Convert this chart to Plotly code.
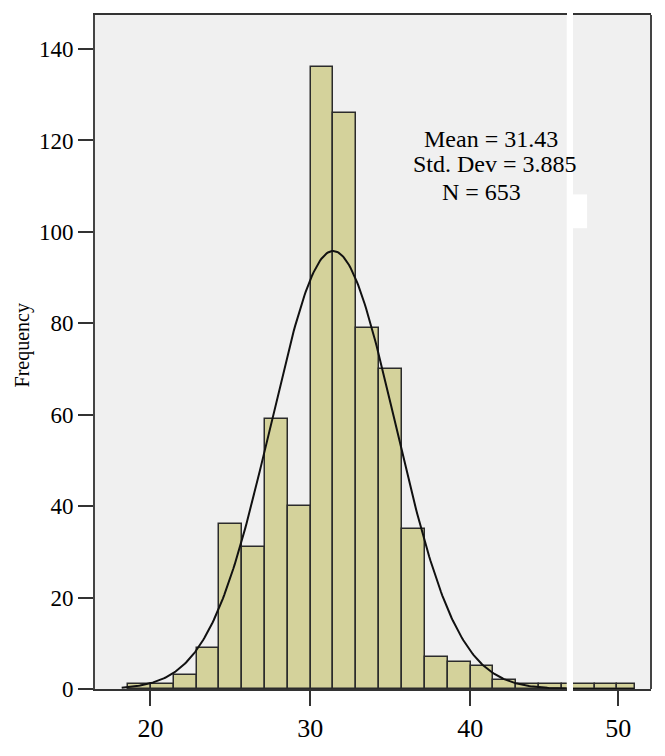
import numpy as np
import plotly.graph_objects as go

# histogram (left panel, before the axis break)
left_edges = [18.59, 20.02, 21.45, 22.88, 24.30, 25.73, 27.16, 28.59, 30.02, 31.45,
              32.88, 34.31, 35.74, 37.17, 38.60, 40.03, 41.45, 42.88, 44.31, 45.74, 47.17]
left_counts = [1, 1, 3, 9, 36, 31, 59, 40, 136, 126, 79, 70, 35, 7, 6, 5, 2, 1, 1, 1]

# right panel (after the break)
right_edges = [47.00, 48.54, 49.90, 51.04]
right_counts = [1, 1, 1]

# stats printed on the chart
mean_val = 31.43
std_val = 3.885
n_val = 653
stat_lines = ["Mean = 31.43", "Std. Dev = 3.885", "N = 653"]

xticks_left = [20, 30, 40]
xticks_right = [50]
yticks = [0, 20, 40, 60, 80, 100, 120, 140]

bar_fill = "#d4d29b"
bar_edge = "#2b2b2b"
serif = "Liberation Serif, Times New Roman, serif"


def centers_widths(edges):
    e = np.array(edges)
    return (e[:-1] + e[1:]) / 2, np.diff(e)


lc, lw = centers_widths(left_edges)
rc, rw = centers_widths(right_edges)

# fitted normal curve from the printed mean / sd / N
bin_w = np.mean(np.diff(left_edges))
xs = np.linspace(18.2, 51.0, 400)
ys = n_val * bin_w / (std_val * np.sqrt(2 * np.pi)) * np.exp(-0.5 * ((xs - mean_val) / std_val) ** 2)

fig = go.Figure()
fig.add_trace(go.Bar(x=lc, y=left_counts, width=lw, marker=dict(color=bar_fill, line=dict(color=bar_edge, width=1.5)),
                     xaxis="x", yaxis="y", showlegend=False))
fig.add_trace(go.Bar(x=rc, y=right_counts, width=rw, marker=dict(color=bar_fill, line=dict(color=bar_edge, width=1.5)),
                     xaxis="x2", yaxis="y", showlegend=False))
fig.add_trace(go.Bar(x=lc, y=left_counts, width=lw, marker=dict(color=bar_fill, line=dict(color=bar_edge, width=1.5)),
                     xaxis="x2", yaxis="y", showlegend=False))
for xa in ["x", "x2"]:
    fig.add_trace(go.Scatter(x=xs, y=ys, mode="lines", line=dict(color="#111111", width=2),
                             xaxis=xa, yaxis="y", showlegend=False))

axis_common = dict(showline=True, linecolor="#333333", linewidth=2, mirror=True,
                   ticks="outside", ticklen=15, tickwidth=2, tickcolor="#333333",
                   showgrid=False, zeroline=False,
                   tickfont=dict(family=serif, size=26, color="black"))

# the page body adds 8px around the figure, so the figure is 16px smaller than the window
fig.update_layout(
    width=649, height=740,
    margin=dict(l=87, r=6, t=5, b=43),
    paper_bgcolor="white", plot_bgcolor="#f0f0f0",
    barmode="overlay", bargap=0,
    xaxis=dict(domain=[0, 0.8484], range=[16.53, 46.04], tickvals=xticks_left, **axis_common),
    xaxis2=dict(domain=[0.8597, 1], range=[47.17, 52.05], tickvals=xticks_right, anchor="y", **axis_common),
    yaxis=dict(range=[0, 147.45], tickvals=yticks, showline=True, linecolor="#444444", linewidth=2,
               ticks="outside", ticklen=15, tickwidth=2, tickcolor="#333333",
               showgrid=False, zeroline=False, anchor="x",
               tickfont=dict(family=serif, size=23, color="black")),
)

# right frame line
fig.add_shape(type="line", xref="paper", yref="paper", x0=1, x1=1, y0=0, y1=1,
              line=dict(color="#444444", width=2))
# small white blotch next to the break
fig.add_shape(type="rect", xref="x2", yref="y", x0=47.17, x1=48.05, y0=100.8, y1=108.2,
              fillcolor="white", line=dict(width=0), layer="above")

stat_x = [36.97, 36.28, 38.12]
stat_y = [120.4, 114.9, 108.7]
for t, sx, sy in zip(stat_lines, stat_x, stat_y):
    fig.add_annotation(x=sx, y=sy, xref="x", yref="y", text=t, showarrow=False,
                       xanchor="left", yanchor="middle",
                       font=dict(family=serif, size=24, color="black"))

fig.add_annotation(x=-0.131, y=0.51, xref="paper", yref="paper", text="Frequency",
                   textangle=-90, showarrow=False, xanchor="center", yanchor="middle",
                   font=dict(family=serif, size=20, color="black"))

fig.write_html("out.html")
